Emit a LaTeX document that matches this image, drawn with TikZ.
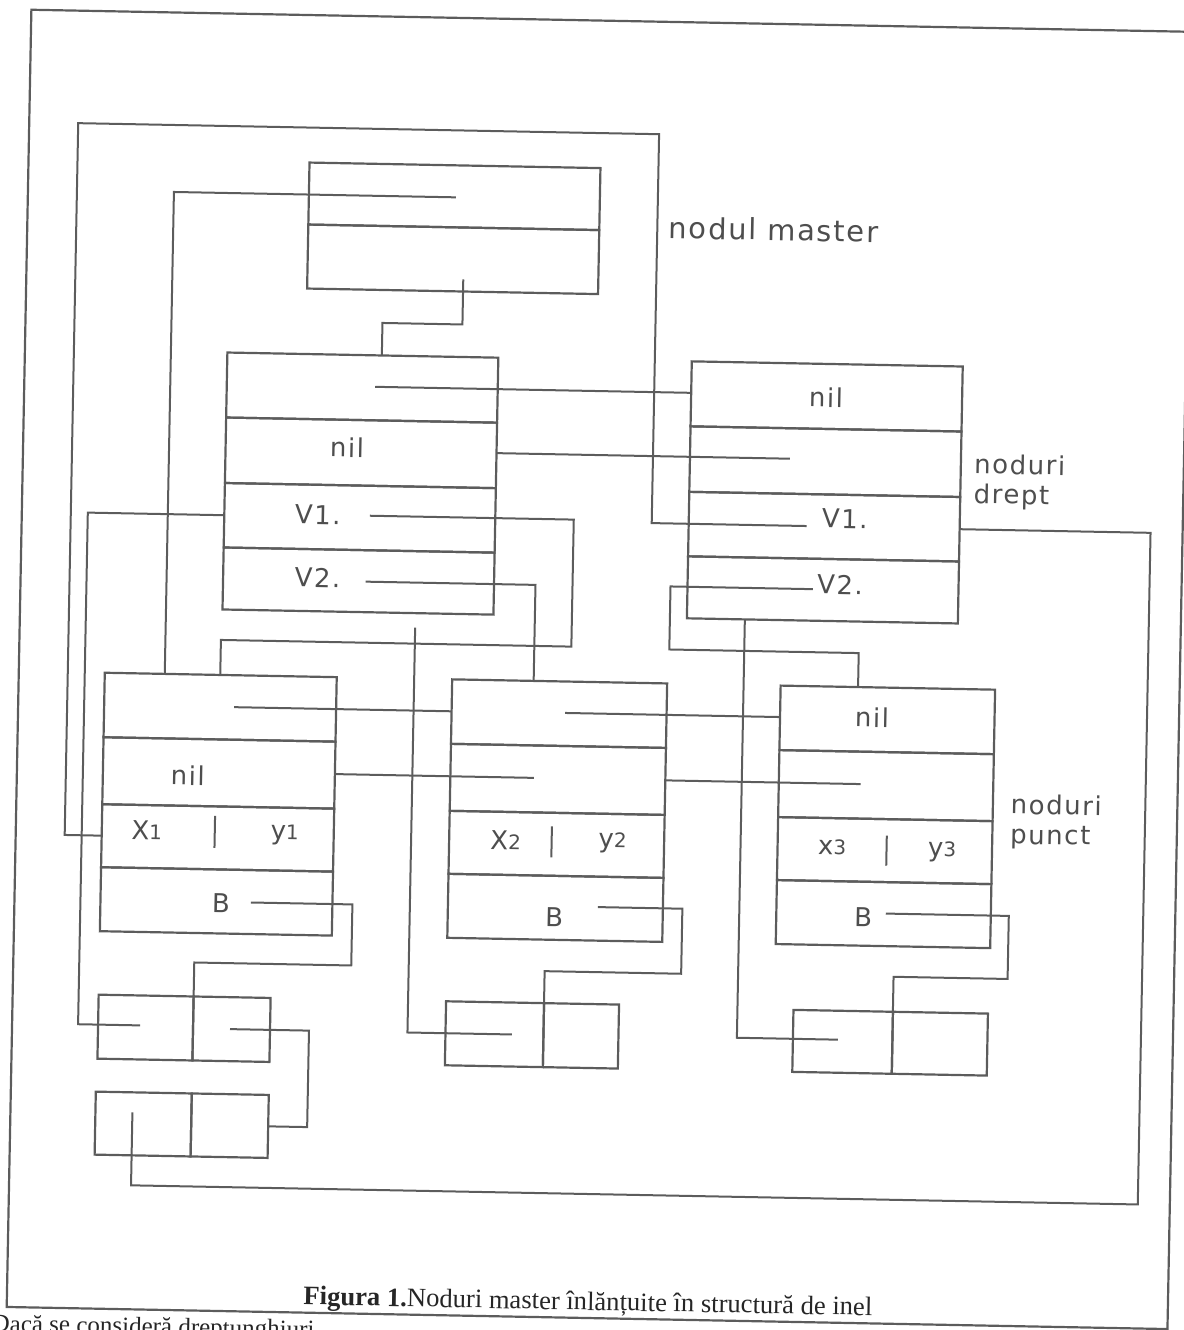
\documentclass[tikz,border=0pt]{standalone}
\usepackage{fontspec}
\setmainfont{Liberation Serif}
\newfontfamily\lbl[LetterSpace=6]{DejaVu Sans}
\definecolor{ink}{HTML}{5C5C5C}
\definecolor{txt}{HTML}{4E4E4E}
\newcommand\mkfld[5]{\node[fld,minimum width={(#4-#2)*0.5pt},minimum height={(#5-#3)*0.5pt}] (#1) at ({(#2+#4)/2},{(#3+#5)/2}) {};}
\newcommand\dg[1]{{\fontsize{10}{10}\selectfont#1}}
\begin{document}
\begin{tikzpicture}[x=0.5pt,y=-0.5pt,
  fld/.style={draw=ink,line width=1.1pt,inner sep=0pt,outer sep=0pt,rectangle},
  lab/.style={text=txt,font=\lbl\fontsize{13}{15}\selectfont,inner sep=0pt},
  ptr/.style={draw=ink,line width=1pt,line join=miter},
  every node/.append style={transform shape}]
\clip (0,0) rectangle (1184,1330);
\begin{scope}[rotate around={-1.09:(592,665)}]
% outer frame
\draw[ink,line width=1.1pt] (19,20.5) rectangle (1180,1318);
% master node
\mkfld{m1}{300}{168}{591}{230}
\mkfld{m2}{300}{230}{591}{294}
% left drept node
\mkfld{ld1}{221.5}{359.5}{492.5}{424.5}
\mkfld{ld2}{221.5}{424.5}{492.5}{490}
\mkfld{ld3}{221.5}{490}{492.5}{554.5}
\mkfld{ld4}{221.5}{554.5}{492.5}{616.5}
% right drept node
\mkfld{rd1}{686}{359.5}{957}{424.5}
\mkfld{rd2}{686}{424.5}{957}{490}
\mkfld{rd3}{686}{490}{957}{554.5}
\mkfld{rd4}{686}{554.5}{957}{616.5}
% punct nodes
\mkfld{pa1}{105}{682}{337}{746.5}
\mkfld{pa2}{105}{746.5}{337}{813.5}
\mkfld{pa3}{105}{813.5}{337}{876.5}
\mkfld{pa4}{105}{876.5}{337}{940.5}
\mkfld{pb1}{452.5}{682}{667.5}{746.5}
\mkfld{pb2}{452.5}{746.5}{667.5}{813.5}
\mkfld{pb3}{452.5}{813.5}{667.5}{876.5}
\mkfld{pb4}{452.5}{876.5}{667.5}{940.5}
\mkfld{pc1}{781}{682}{995.5}{746.5}
\mkfld{pc2}{781}{746.5}{995.5}{813.5}
\mkfld{pc3}{781}{813.5}{995.5}{876.5}
\mkfld{pc4}{781}{876.5}{995.5}{940.5}
% small boxes
\mkfld{s1a}{105}{1004}{200}{1068}
\mkfld{s1b}{200}{1004}{277}{1068}
\mkfld{s2a}{452.5}{1004}{550.5}{1068}
\mkfld{s2b}{550.5}{1004}{625.5}{1068}
\mkfld{s3a}{800}{1006}{899.5}{1068}
\mkfld{s3b}{899.5}{1006}{994.5}{1068}
\mkfld{s4a}{104}{1101}{200}{1164}
\mkfld{s4b}{200}{1101}{277}{1164}
% labels
\node[lab,font=\lbl\fontsize{14.5}{16}\selectfont,anchor=base west] (tmaster) at (660,237) {nodul master};
\node[lab] (ldnil) at (343,452) {nil};
\node[lab] (ldv1) at (315,520) {V1.};
\node[lab] (ldv2) at (316,583) {V2.};
\node[lab] (rdnil) at (821,393) {nil};
\node[lab] (rdv1) at (842,514) {V1.};
\node[lab] (rdv2) at (838.5,580) {V2.};
\node[lab,anchor=west,align=left] (tdrept) at (970,474) {noduri\\drept};
\node[lab,anchor=west,align=left] (tpunct) at (1013,813.5) {noduri\\punct};
\node[lab] (panil) at (190,783) {nil};
\node[lab] (pax) at (150,838.5) {X\dg{1}};
\node[lab] (pay) at (288,841) {y\dg{1}};
\node[lab] (paB) at (225.5,910) {B};
\node[lab] (pbx) at (509,841.6) {X\dg{2}};
\node[lab] (pby) at (616,842.6) {y\dg{2}};
\node[lab] (pbB) at (559,918) {B};
\node[lab] (pcnil) at (873,712) {nil};
\node[lab] (pcx) at (835.5,842.4) {x\dg{3}};
\node[lab] (pcy) at (945.6,845.4) {y\dg{3}};
\node[lab] (pcB) at (868,912) {B};
\draw[ptr] (218,823) -- (218,855);
\draw[ptr] (555,827) -- (555,858);
\draw[ptr] (890,830) -- (890,860);
% caption and cut text
\node[anchor=base,font=\fontsize{13.3}{15}\selectfont,text=black!85,inner sep=0pt] (caption) at (600,1310) {\textbf{Figura 1.}Noduri master înlănțuite în structură de inel};
\node[anchor=base west,font=\fontsize{12.5}{14}\selectfont,text=black!85,inner sep=0pt] (bodytext) at (4,1343) {Dacă se consideră dreptunghiuri};
% pointer start points
\coordinate (cm1) at (447,200);
\coordinate (cm2) at (456,282);
\coordinate (cl1) at (370,391);
\coordinate (cl3) at (367,520);
\coordinate (cl4) at (364,586);
\coordinate (cdown) at (414.5,631);
\coordinate (cr2) at (786,455);
\coordinate (crv1) at (804,522);
\coordinate (crv2) at (811.5,585);
\coordinate (cpa1) at (235,714);
\coordinate (cpb1) at (566,713.5);
\coordinate (cpb2) at (536,779);
\coordinate (cpc2) at (863,779);
\coordinate (cpaB) at (255.5,909);
\coordinate (cpbB) at (602.5,907);
\coordinate (cpcB) at (890.5,908);
\coordinate (cs1a) at (147,1034);
\coordinate (cs1b) at (237,1036);
\coordinate (cs2a) at (519,1036);
\coordinate (cs3a) at (845,1035);
\coordinate (cs4a) at (141,1121);
% connectors
\draw[ptr] (cm1) -| ([shift={(60,0)}]pa1.north west);
\draw[ptr] (cm2) -- ++(0,45) -| ([shift={(154.5,0)}]ld1.north west);
\draw[ptr] (cl1) -- (cl1 -| rd1.west);
\draw[ptr] (cr2) -- (cr2 -| ld2.east);
\draw[ptr] (cl3) -| (571,647) -| ([shift={(115.5,0)}]pa1.north west);
\draw[ptr] (ld3.west) -- ++(-136.5,0) |- (cs1a);
\draw[ptr] (cl4) -| ([shift={(81.5,0)}]pb1.north west);
\draw[ptr] (cdown) |- (cs2a);
\draw[ptr] (pa3.west) -- ++(-37,0) |- (649,133) |- (crv1);
\draw[ptr] (rd3.east) -- ++(191,0) |- (141,1194) -- (cs4a);
\draw[ptr] (crv2) -| (669,648) -| ([shift={(77.5,0)}]pc1.north west);
\draw[ptr] ([shift={(58,0)}]rd4.south west) |- (cs3a);
\draw[ptr] (cpa1) -- (cpa1 -| pb1.west);
\draw[ptr] (cpb2) -- (cpb2 -| pa2.east);
\draw[ptr] (cpb1) -- (cpb1 -| pc1.west);
\draw[ptr] (cpc2) -- (cpc2 -| pb2.east);
\draw[ptr] (cpaB) -| (357,970) -| (s1a.north east);
\draw[ptr] (cpbB) -| (687,972) -| (s2a.north east);
\draw[ptr] (cpcB) -| (1013.5,971) -| (s3a.north east);
\draw[ptr] (cs1b) -| ([shift={(39,0)}]s4b.east) -- (s4b.east);
\end{scope}
\end{tikzpicture}
\end{document}
